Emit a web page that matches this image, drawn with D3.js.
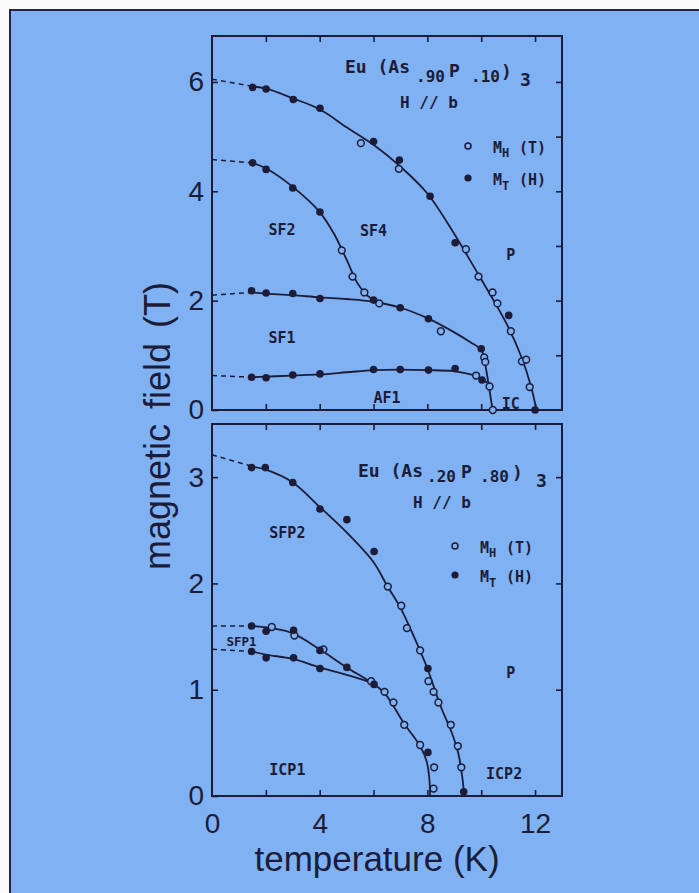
<!DOCTYPE html>
<html>
<head>
<meta charset="utf-8">
<script src="https://cdn.jsdelivr.net/npm/d3@7"></script>
<style>
  html, body { margin: 0; padding: 0; background: #ffffff; }
  svg { display: block; }
</style>
</head>
<body>
<svg id="chart" width="699" height="893"></svg>
<script>
// ---------------- DATA ----------------
const xTicks = [0, 4, 8, 12];
const xMinorTicks = [0, 2, 4, 6, 8, 10, 12];
const topYTicks = [0, 2, 4, 6];
const topYRightTicks = [1, 2, 3, 4, 5, 6];
const bottomYTicks = [0, 1, 2, 3];
const bottomYRightTicks = [1, 2, 3];

// Eu(As.90P.10)3 : M_H(T) open circles, M_T(H) filled circles  [T (K), H (T)]
const topOpen = [
  [5.53, 4.88], [6.94, 4.41], [9.43, 2.94], [9.9, 2.44], [10.42, 2.15], [10.6, 1.95],
  [11.1, 1.44], [11.51, 0.89], [11.67, 0.92], [11.8, 0.42],
  [4.82, 2.92], [5.22, 2.44], [5.66, 2.15], [6.21, 1.95],
  [8.5, 1.44], [10.11, 0.96], [10.15, 0.88], [10.31, 0.43], [10.43, 0.0], [9.81, 0.63]
];
const topFilled = [
  [1.51, 5.9], [2.01, 5.87], [3.02, 5.68], [4.01, 5.52], [6.0, 4.91], [6.96, 4.57],
  [8.1, 3.91], [9.03, 3.06], [11.02, 1.73], [12.0, 0.0],
  [1.51, 4.52], [2.01, 4.40], [3.0, 4.06], [4.01, 3.62],
  [1.47, 2.18], [2.01, 2.14], [3.0, 2.13], [4.01, 2.04], [6.0, 2.01], [6.99, 1.87], [8.04, 1.67], [10.0, 1.12],
  [1.47, 0.60], [2.01, 0.59], [3.0, 0.64], [4.01, 0.66], [6.0, 0.74], [6.99, 0.74], [8.04, 0.73], [9.03, 0.76], [10.03, 0.55]
];
// phase boundaries (solid) and their extrapolations to T = 0 (dashed)
const topLines = [
  [[1.5, 5.92], [2, 5.88], [3, 5.7], [4, 5.5], [5, 5.17], [6, 4.85], [7, 4.45], [8, 3.96], [9, 3.22], [9.5, 2.81], [10, 2.39], [10.5, 1.97], [11, 1.52], [11.5, 0.96], [11.85, 0.43], [12.05, 0.0]],
  [[1.5, 4.52], [2, 4.42], [3, 4.08], [4, 3.62], [4.5, 3.25], [5, 2.75], [5.4, 2.32], [5.75, 2.1], [6.05, 2.0]],
  [[1.5, 2.15], [2, 2.13], [3, 2.1], [4, 2.06], [5, 2.03], [6, 1.98], [7, 1.87], [8, 1.68], [9, 1.42], [9.6, 1.24], [10, 1.1], [10.1, 0.95], [10.27, 0.48], [10.42, 0.0]],
  [[1.5, 0.6], [3, 0.63], [4, 0.65], [5, 0.69], [6, 0.73], [7, 0.74], [8, 0.73], [8.97, 0.71], [9.6, 0.65], [9.84, 0.62], [10.22, 0.5]]
];
const topDashes = [
  [[0, 6.05], [1.5, 5.92]],
  [[0, 4.58], [1.5, 4.52]],
  [[0, 2.1], [1.5, 2.15]],
  [[0, 0.63], [1.5, 0.6]]
];

// Eu(As.20P.80)3
const bottomOpen = [
  [6.53, 1.97], [7.03, 1.79], [7.24, 1.58], [7.73, 1.37], [8.04, 1.08], [8.23, 0.98],
  [8.41, 0.88], [8.87, 0.67], [9.13, 0.47], [9.26, 0.27],
  [2.22, 1.59], [3.06, 1.51], [4.14, 1.38], [5.91, 1.08], [6.41, 0.98], [6.74, 0.88],
  [7.14, 0.67], [7.73, 0.48], [8.25, 0.27], [8.23, 0.07]
];
const bottomFilled = [
  [1.47, 3.09], [1.98, 3.09], [3.0, 2.95], [4.01, 2.70], [5.01, 2.60], [6.02, 2.30],
  [8.02, 1.20], [9.35, 0.04],
  [1.47, 1.60], [2.01, 1.55], [3.03, 1.56], [4.01, 1.37], [5.01, 1.21], [6.02, 1.05], [8.02, 0.41],
  [1.47, 1.36], [2.01, 1.30], [3.03, 1.30], [4.01, 1.20]
];
const bottomLines = [
  [[1.5, 3.1], [2, 3.07], [3, 2.95], [4, 2.72], [5, 2.48], [6, 2.2], [6.5, 1.98], [7, 1.77], [7.5, 1.5], [8, 1.2], [8.5, 0.84], [8.9, 0.6], [9.15, 0.4], [9.3, 0.17], [9.37, 0.0]],
  [[1.5, 1.6], [2.2, 1.58], [3, 1.53], [4, 1.38], [5, 1.21], [5.9, 1.07], [6.4, 0.97], [7.14, 0.68], [7.73, 0.47], [7.98, 0.32], [8.08, 0.14], [8.1, 0.0]],
  [[1.5, 1.36], [2, 1.33], [3, 1.29], [4, 1.21], [5, 1.14], [5.9, 1.07]]
];
const bottomDashes = [
  [[0, 3.21], [1.5, 3.1]],
  [[0, 1.6], [1.5, 1.6]],
  [[0, 1.38], [1.5, 1.36]]
];

const topRegions = [
  { text: "SF2", t: 2.6, h: 3.2 },
  { text: "SF4", t: 6.0, h: 3.18 },
  { text: "P", t: 11.1, h: 2.74 },
  { text: "SF1", t: 2.6, h: 1.22 },
  { text: "AF1", t: 6.5, h: 0.13 },
  { text: "IC", t: 11.1, h: 0.02 }
];
const bottomRegions = [
  { text: "SFP2", t: 2.8, h: 2.43, size: 15 },
  { text: "SFP1", t: 1.1, h: 1.41, size: 12.5 },
  { text: "P", t: 11.1, h: 1.11, size: 15 },
  { text: "ICP1", t: 2.8, h: 0.2, size: 15 },
  { text: "ICP2", t: 10.85, h: 0.16, size: 15 }
];

// ---------------- DRAWING ----------------
const ink = "#1c1c38";
const blue = "#7fb1f3";
const svg = d3.select("#chart");

svg.append("rect").attr("x", 0).attr("y", 0).attr("width", 699).attr("height", 893).attr("fill", "#fbfbfc");
svg.append("rect").attr("x", 10).attr("y", 10).attr("width", 740).attr("height", 940)
  .attr("fill", blue).attr("stroke", "#2a2440").attr("stroke-width", 2);

const x = d3.scaleLinear().domain([0, 13]).range([212, 562]);
const yTop = d3.scaleLinear().domain([0, 6.84]).range([410, 36]);
const yBot = d3.scaleLinear().domain([0, 3.5]).range([796, 424]);

const mono = "'DejaVu Sans Mono', 'Liberation Mono', monospace";
const sans = "'Liberation Sans', Arial, Helvetica, sans-serif";

function panel(y, yTicks, yRightTicks, showX, open, filled, lines, dashes, regions) {
  const g = svg.append("g");
  const [y0, y1] = y.range();
  g.append("rect").attr("x", x(0)).attr("y", y1).attr("width", x(13) - x(0)).attr("height", y0 - y1)
    .attr("fill", "none").attr("stroke", ink).attr("stroke-width", 2);

  const styleAxis = sel => {
    sel.select(".domain").remove();
    sel.selectAll(".tick line").attr("stroke", ink).attr("stroke-width", 1.6);
    sel.selectAll(".tick text").attr("fill", ink).style("font-family", sans).style("font-size", "28px");
  };
  g.append("g").attr("transform", `translate(${x(0)},0)`)
    .call(d3.axisLeft(y).tickValues(yTicks).tickSize(-6).tickPadding(8).tickFormat(d3.format("d")))
    .call(styleAxis);
  g.append("g").attr("transform", `translate(${x(13)},0)`)
    .call(d3.axisRight(y).tickValues(yRightTicks).tickSize(-6).tickFormat(""))
    .call(styleAxis);
  g.append("g").attr("transform", `translate(0,${y1})`)
    .call(d3.axisTop(x).tickValues(xMinorTicks.filter(v => v > 0)).tickSize(-6).tickFormat(""))
    .call(styleAxis);
  g.append("g").attr("transform", `translate(0,${y0})`)
    .call(d3.axisBottom(x).tickValues(xMinorTicks.filter(v => v > 0)).tickSize(-6).tickFormat(""))
    .call(styleAxis);
  if (showX) {
    g.append("g").attr("transform", `translate(0,${y0})`)
      .call(d3.axisBottom(x).tickValues(xTicks).tickSize(0).tickPadding(17).tickFormat(d3.format("d")))
      .call(styleAxis);
  }

  const line = d3.line().x(d => x(d[0])).y(d => y(d[1])).curve(d3.curveCatmullRom.alpha(0.5));
  g.selectAll(".bd").data(lines).join("path").attr("class", "bd")
    .attr("d", line).attr("fill", "none").attr("stroke", ink).attr("stroke-width", 1.8);
  g.selectAll(".dash").data(dashes).join("path").attr("class", "dash")
    .attr("d", d3.line().x(d => x(d[0])).y(d => y(d[1]))).attr("fill", "none")
    .attr("stroke", ink).attr("stroke-width", 1.5).attr("stroke-dasharray", "5,4");

  g.selectAll(".op").data(open).join("circle").attr("class", "op")
    .attr("cx", d => x(d[0])).attr("cy", d => y(d[1])).attr("r", 3.4)
    .attr("fill", blue).attr("stroke", ink).attr("stroke-width", 1.5);
  g.selectAll(".fl").data(filled).join("circle").attr("class", "fl")
    .attr("cx", d => x(d[0])).attr("cy", d => y(d[1])).attr("r", 3.8)
    .attr("fill", ink);

  g.selectAll(".reg").data(regions).join("text").attr("class", "reg")
    .attr("x", d => x(d.t)).attr("y", d => y(d.h)).attr("text-anchor", "middle")
    .style("font-family", mono).style("font-weight", "bold").style("font-size", d => (d.size || 15) + "px")
    .attr("fill", ink).text(d => d.text);
  return g;
}

panel(yTop, topYTicks, topYRightTicks, false, topOpen, topFilled, topLines, topDashes, topRegions);
panel(yBot, bottomYTicks, bottomYRightTicks, true, bottomOpen, bottomFilled, bottomLines, bottomDashes, bottomRegions);

// compound titles: each piece is its own text element
function title(parts, size, weight) {
  parts.forEach(p => svg.append("text").attr("x", p[1]).attr("y", p[2]).attr("fill", ink)
    .style("font-family", mono).style("font-weight", weight || "normal")
    .style("font-size", (p[3] || size) + "px").text(p[0]));
}
title([["Eu (As", 345, 73], [".90", 416, 82, 16], ["P", 449, 77], [".10", 471, 82, 16], [")", 501, 78], ["3", 520, 86]], 18, "bold");
title([["H // b", 400, 108]], 16, "bold");
title([["Eu (As", 358, 477], [".20", 427, 482, 16], ["P", 461, 478], [".80", 480, 482, 16], [")", 512, 479], ["3", 536, 487]], 18, "bold");
title([["H // b", 413, 508]], 16, "bold");

function legend(cx, cy1, cy2) {
  svg.append("circle").attr("cx", cx).attr("cy", cy1).attr("r", 3).attr("fill", blue).attr("stroke", ink).attr("stroke-width", 1.5);
  svg.append("circle").attr("cx", cx).attr("cy", cy2).attr("r", 3.6).attr("fill", ink);
  title([["M", cx + 25, cy1 + 7, 15], ["H", cx + 34, cy1 + 11, 12], ["(T)", cx + 51, cy1 + 7, 15]], 15, "bold");
  title([["M", cx + 25, cy2 + 7, 15], ["T", cx + 34, cy2 + 12, 12], ["(H)", cx + 51, cy2 + 7, 15]], 15, "bold");
}
legend(468, 146, 178);
legend(455, 546, 575);

svg.append("text").attr("x", 377).attr("y", 871).attr("text-anchor", "middle")
  .style("font-family", sans).style("font-size", "35px").attr("fill", ink).text("temperature (K)");
svg.append("text").attr("transform", "translate(170,426) rotate(-90)").attr("text-anchor", "middle")
  .style("font-family", sans).style("font-size", "36px").style("word-spacing", "5px").attr("fill", ink).text("magnetic field (T)");
</script>
</body>
</html>
